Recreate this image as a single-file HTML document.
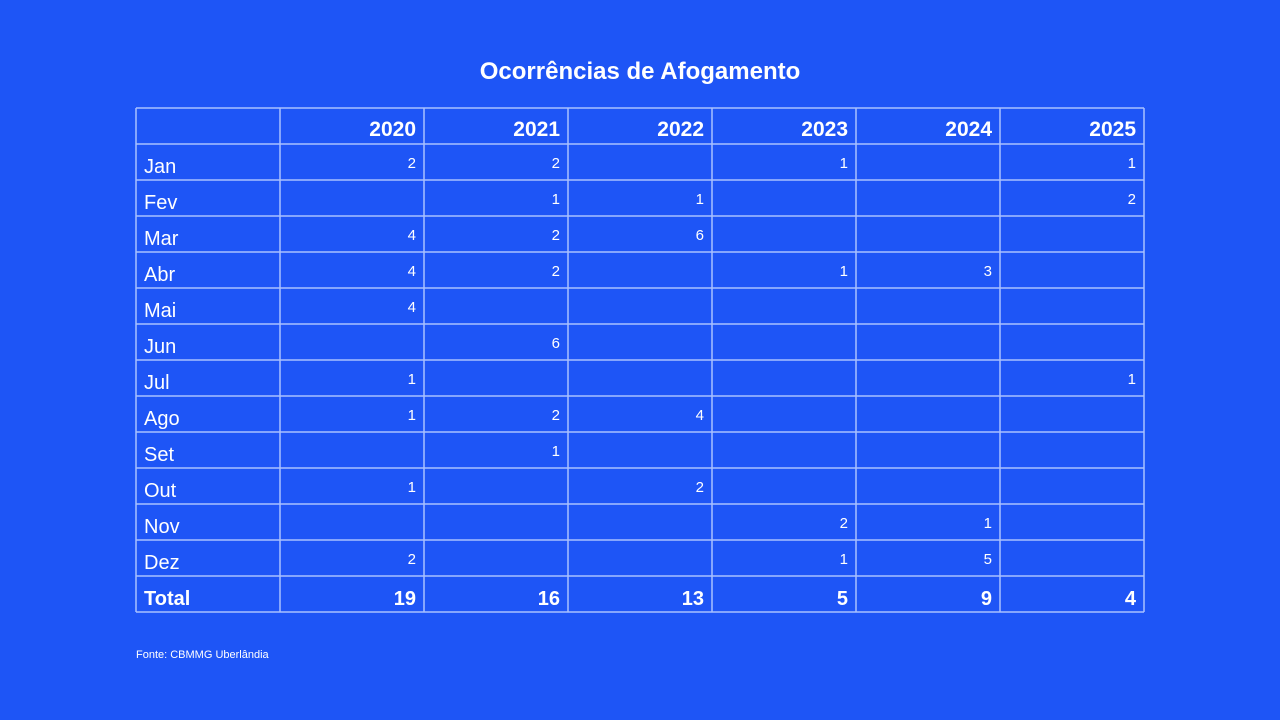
<!DOCTYPE html>
<html><head><meta charset="utf-8"><style>
body{margin:0;width:1280px;height:720px;background:#1e55f6;font-family:"Liberation Sans",sans-serif;color:#fff;overflow:hidden;position:relative}
#title{position:absolute;left:0;width:1280px;top:58px;text-align:center;font-weight:bold;font-size:24px}
#grid{position:absolute;left:0;top:0}
.c{position:absolute;box-sizing:border-box}
.m{font-size:20px;left:144px}
.v{font-size:15px;text-align:right;width:136px}
.h{font-size:21px;font-weight:bold;text-align:right;width:136px}
.t{font-size:20px;font-weight:bold;text-align:right;width:136px}
#src{position:absolute;left:136px;top:649px;font-size:11px}
</style></head><body>
<div id="title">Ocorrências de Afogamento</div>
<svg id="lines" width="1280" height="720" style="position:absolute;left:0;top:0"></svg>
<div id="grid"></div>
<div id="src">Fonte: CBMMG Uberlândia</div>
<script>
const years=["2020","2021","2022","2023","2024","2025"];
const months=["Jan","Fev","Mar","Abr","Mai","Jun","Jul","Ago","Set","Out","Nov","Dez"];
const v2020=[2,null,4,4,4,null,1,1,null,1,null,2];
const v2021=[2,1,2,2,null,6,null,2,1,null,null,null];
const v2022=[null,1,6,null,null,null,null,4,null,2,null,null];
const v2023=[1,null,null,1,null,null,null,null,null,null,2,1];
const v2024=[null,null,null,3,null,null,null,null,null,null,1,5];
const v2025=[1,2,null,null,null,null,1,null,null,null,null,null];
const totals=[19,16,13,5,9,4];
const series=[v2020,v2021,v2022,v2023,v2024,v2025];
const L=136,T=108,W0=144,CW=144,RH=36,NR=14;
const svg=document.getElementById('lines');
function ln(x1,y1,x2,y2){const l=document.createElementNS('http://www.w3.org/2000/svg','line');


l.setAttribute('x1',x1);l.setAttribute('y1',y1);l.setAttribute('x2',x2);l.setAttribute('y2',y2);
l.setAttribute('stroke','#a9c1ff');l.setAttribute('stroke-width','1.5');svg.appendChild(l);}
const R=L+W0+CW*years.length,B=T+RH*NR;
for(let r=0;r<=NR;r++)ln(L,T+r*RH,R,T+r*RH);
ln(L,T,L,B);for(let c=0;c<=years.length;c++)ln(L+W0+c*CW,T,L+W0+c*CW,B);
const g=document.getElementById('grid');
function cell(cls,txt,x,y,name){const d=document.createElement('div');d.className='c '+cls;d.textContent=txt;d.style.left=x+'px';d.style.top=y+'px';


g.appendChild(d);}
years.forEach((y,i)=>cell('h',y,L+W0+i*CW,T+10,'header-'+y));
months.forEach((m,r)=>{cell('m',m,L+8,T+RH*(r+1)+12,'month-'+m.toLowerCase());
 series.forEach((s,i)=>{if(s[r]!=null)cell('v',String(s[r]),L+W0+i*CW,T+RH*(r+1)+11,'value-'+years[i]+'-'+m.toLowerCase());});});
cell('t','Total',L+8,T+RH*13+12,'total-label');g.lastChild.style.textAlign='left';
totals.forEach((t,i)=>cell('t',String(t),L+W0+i*CW,T+RH*13+12,'total-'+years[i]));
</script>
</body></html>
